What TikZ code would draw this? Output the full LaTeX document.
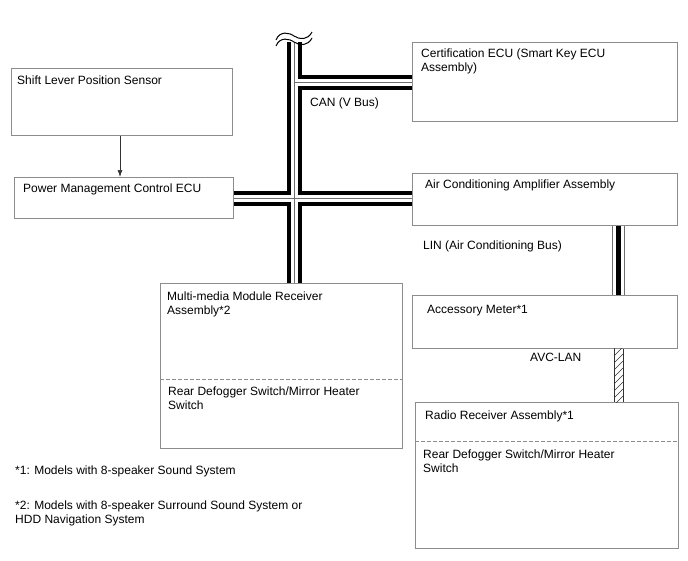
\documentclass[tikz,border=0pt]{standalone}
\usepackage{fontspec}
\setmainfont{Liberation Sans}
\usetikzlibrary{arrows.meta,calc}
\definecolor{boxgray}{RGB}{140,140,140}
\definecolor{busgray}{RGB}{110,110,110}
\begin{document}
\begin{tikzpicture}[x=1pt,y=-1pt,
  box/.style={draw=boxgray,line width=0.8pt,inner sep=0pt,anchor=north west},
  txt/.style={anchor=base west,inner sep=0pt,font=\fontsize{12}{14}\selectfont},
  dashline/.style={draw=boxgray,line width=0.8pt,dash pattern=on 4pt off 2pt},
  busouter/.style={line width=15pt,black},
  businner/.style={line width=7pt,white},
  buscenter/.style={line width=0.9pt,busgray},
  wave/.style={line width=1pt,black},
]
\useasboundingbox[fill=white] (0,0) rectangle (688,560);

% boxes
\node[box,minimum width=221pt,minimum height=67pt] (shift) at (11,68) {};
\node[box,minimum width=219pt,minimum height=41pt] (pmc) at (14,177) {};
\node[box,minimum width=265pt,minimum height=79pt] (cert) at (412,42) {};
\node[box,minimum width=265pt,minimum height=52pt] (ac) at (412,173) {};
\node[box,minimum width=265pt,minimum height=53pt] (meter) at (412,295) {};
\node[box,minimum width=263pt,minimum height=146pt] (radio) at (415,402) {};
\node[box,minimum width=242pt,minimum height=165pt] (mm) at (160,283) {};

% dashed separators
\coordinate (mmdash) at (0,379);
\coordinate (radiodash) at (0,441);
\draw[dashline] (mm.west |- mmdash) -- (mm.east |- mmdash);
\draw[dashline] (radio.west |- radiodash) -- (radio.east |- radiodash);

% texts
\node[txt] (tshift) at (17,84) {Shift Lever Position Sensor};
\node[txt] (tpmc) at (23,192) {Power Management Control ECU};
\node[txt] (tcert1) at (421,57) {Certification ECU (Smart Key ECU};
\node[txt] (tcert2) at (421,71) {Assembly)};
\node[txt] (tac) at (425,188) {Air Conditioning Amplifier Assembly};
\node[txt] (tmeter) at (427,313) {Accessory Meter*1};
\node[txt] (tmm1) at (167,300) {Multi-media Module Receiver};
\node[txt] (tmm2) at (167,314) {Assembly*2};
\node[txt] (tmm3) at (168,395) {Rear Defogger Switch/Mirror Heater};
\node[txt] (tmm4) at (168,409) {Switch};
\node[txt] (tradio1) at (425,419) {Radio Receiver Assembly*1};
\node[txt] (tradio2) at (423,458) {Rear Defogger Switch/Mirror Heater};
\node[txt] (tradio3) at (423,472) {Switch};
\node[txt] (tcan) at (310,106) {CAN (V Bus)};
\node[txt] (tlin) at (423,249) {LIN (Air Conditioning Bus)};
\node[txt] (tavc) at (530,361) {AVC-LAN};
\node[txt] (fn1) at (15,474) {*1: Models with 8-speaker Sound System};
\node[txt] (fn2a) at (15,509) {*2: Models with 8-speaker Surround Sound System or};
\node[txt] (fn2b) at (15,523) {HDD Navigation System};

% arrow shift -> pmc
\coordinate (arrx) at (120,0);
\draw[line width=0.7pt,black!80,-{Latex[length=7pt,width=5pt]}] (shift.south -| arrx) -- (pmc.north -| arrx);

% CAN bus
\coordinate (cantop) at (294.5,42);
\coordinate (j1) at (294.5,82.5);
\coordinate (j2) at (294.5,198.5);
\foreach \s in {busouter,businner,buscenter}{
  \draw[\s] (cantop) -- (mm.north -| cantop);
  \draw[\s] (j1) -- (cert.west |- j1);
  \draw[\s] (pmc.east |- j2) -- (ac.west |- j2);
}
% break symbol
\draw[wave] (276,40) .. controls (280,30) and (290,33) .. (294,36) .. controls (300,40) and (308,40) .. (312,32);
\draw[wave] (276,46) .. controls (280,36) and (290,39) .. (294,42) .. controls (300,46) and (308,46) .. (312,38);

% LIN bus
\coordinate (lin) at (618.5,0);
\fill[black] ([xshift=-2.5pt]ac.south -| lin) rectangle ([xshift=2.5pt]meter.north -| lin);
\draw[busgray,line width=0.9pt] ([xshift=-6.5pt]ac.south -| lin) -- ([xshift=-6.5pt]meter.north -| lin);
\draw[busgray,line width=0.9pt] ([xshift=6pt]ac.south -| lin) -- ([xshift=6pt]meter.north -| lin);

% AVC-LAN
\coordinate (avc1) at (614,348);
\coordinate (avc2) at (623,402);
\begin{scope}
  \clip (avc1) rectangle (avc2);
  \foreach \k in {0,...,10}{\draw[line width=0.5pt,black!80] (614,{342+7*\k}) -- ++(9,-9);}
\end{scope}
\draw[line width=0.8pt,black!80] (meter.south -| avc1) -- (radio.north -| avc1);
\draw[line width=0.8pt,black!80] (meter.south -| avc2) -- (radio.north -| avc2);
\end{tikzpicture}
\end{document}
